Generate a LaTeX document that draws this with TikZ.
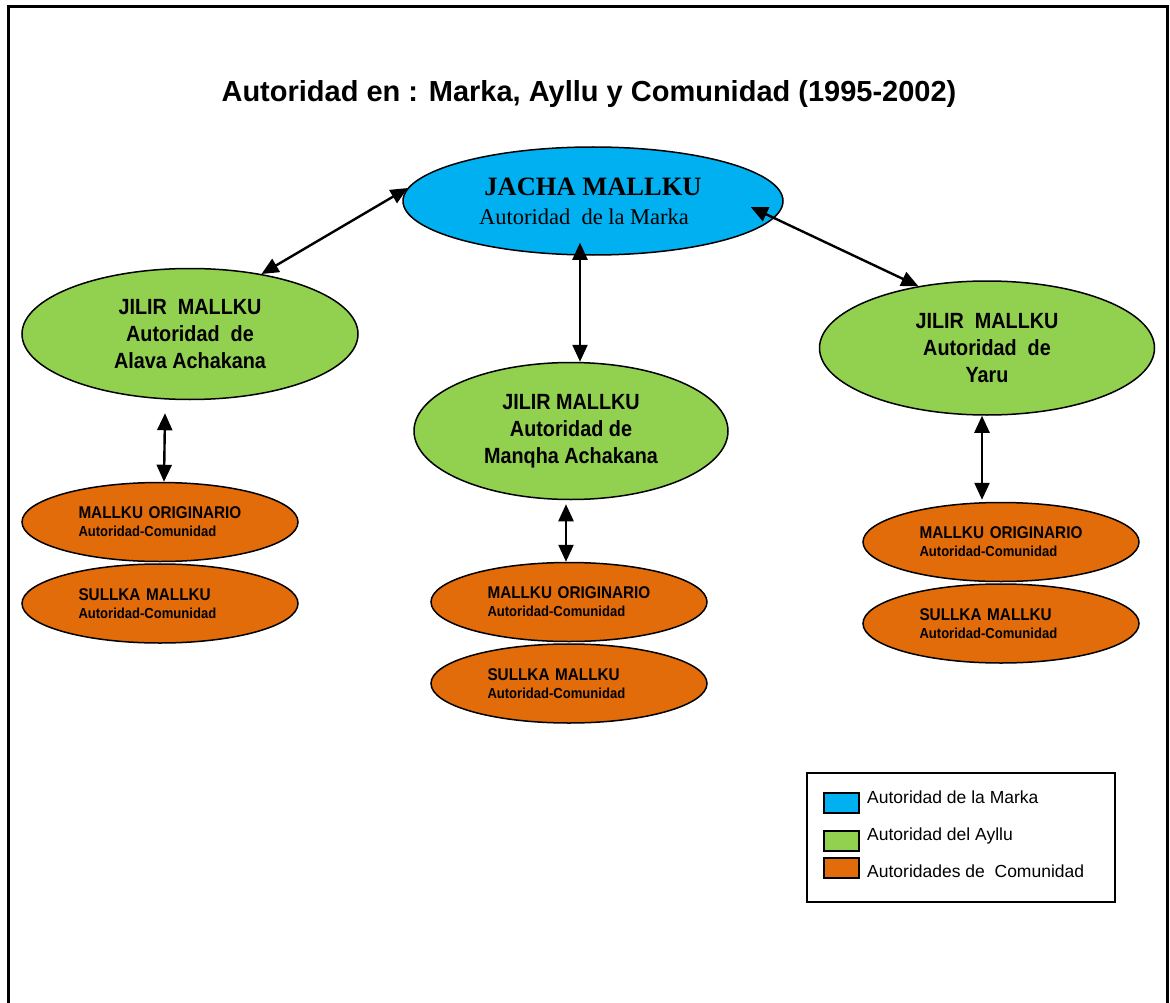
\documentclass[tikz,border=0pt]{standalone}
\usepackage{fontspec}
\setmainfont{Liberation Sans}
\newfontfamily\timesfont{Liberation Serif}
\newfontfamily\narrowfont[FakeStretch=0.9]{Liberation Sans}
\usepackage{xcolor}
\usepackage{tikz}
\usetikzlibrary{shapes,arrows.meta,positioning,calc}

\definecolor{markablue}{RGB}{0,176,240}
\definecolor{ayllugreen}{RGB}{146,208,80}
\definecolor{comorange}{RGB}{226,107,10}

\tikzset{
  marka/.style={ellipse, draw, line width=1.5pt, fill=markablue, inner sep=0pt,
    minimum width=380pt, minimum height=108pt, align=center,
    font=\timesfont\fontsize{22.5}{29}\selectfont},
  ayllu/.style={ellipse, draw, line width=1.5pt, fill=ayllugreen, inner sep=0pt,
    align=center, font=\narrowfont\bfseries\fontsize{22}{27}\selectfont},
  comunidad/.style={ellipse, draw, line width=1.5pt, fill=comorange, inner sep=0pt,
    minimum width=276pt, minimum height=79pt, text width=163pt, align=left,
    font=\narrowfont\bfseries\fontsize{17}{18}\selectfont},
  link/.style={{Triangle[length=17pt,width=15pt]}-{Triangle[length=17pt,width=15pt]}, line width=2.4pt},
  swatch/.style={draw, line width=1.5pt, minimum width=35pt, minimum height=20pt, inner sep=0pt},
  keytext/.style={anchor=base west, inner sep=0pt, font=\fontsize{17.5}{20}\selectfont}
}
\newcommand\comlabel{{\fontsize{14.5}{18}\selectfont Autoridad-Comunidad}}

\begin{document}
\begin{tikzpicture}[x=1pt, y=-1pt]
  \useasboundingbox (0,0) rectangle (1170,1003);
  % frame
  \draw[line width=3pt] (8,1003) -- (8,7) -- (1167,7) -- (1167,1003);
  \node[anchor=base, font=\bfseries\fontsize{29}{34}\selectfont] (title) at (589,102)
    {Autoridad en : Marka, Ayllu y Comunidad (1995-2002)};

  % marka
  \node[marka] (jacha) at (593,201)
    {{\bfseries\fontsize{26.5}{29}\selectfont JACHA MALLKU}\\Autoridad\ \ de la Marka\hspace*{18pt}};

  % ayllus
  \node[ayllu, minimum width=336pt, minimum height=131pt] (alava) at (190,334)
    {JILIR\ \ MALLKU\\Autoridad\ \ de\\Alava Achakana};
  \node[ayllu, minimum width=314pt, minimum height=137pt] (manqha) at (571,431)
    {JILIR MALLKU\\Autoridad de\\Manqha Achakana};
  \node[ayllu, minimum width=335pt, minimum height=134pt] (yaru) at (987,348)
    {JILIR\ \ MALLKU\\Autoridad\ \ de\\Yaru};

  % comunidades
  \node[comunidad] (mol) at (160,522) {MALLKU ORIGINARIO\\\comlabel};
  \node[comunidad, below=1pt of mol] (sul) {SULLKA MALLKU\\\comlabel};
  \node[comunidad] (mom) at (569,602) {MALLKU ORIGINARIO\\\comlabel};
  \node[comunidad, below=1pt of mom] (sum) {SULLKA MALLKU\\\comlabel};
  \node[comunidad] (mor) at (1001,542) {MALLKU ORIGINARIO\\\comlabel};
  \node[comunidad, below=1pt of mor] (sur) {SULLKA MALLKU\\\comlabel};

  % links
  \draw[link] (jacha.176) -- (alava.40);
  \draw[link] ([xshift=-13pt,yshift=13pt]jacha.south) -- ([xshift=9pt]manqha.north);
  \draw[link] ([xshift=-33pt,yshift=-6pt]jacha.east) -- (yaru.138);
  \draw[link] ([xshift=-25pt,yshift=-13pt]alava.south) -- ([xshift=4pt]mol.north);
  \draw[link] ([xshift=-5pt,yshift=-4pt]manqha.south) -- ([xshift=-3pt]mom.north);
  \draw[link] ([xshift=-5pt]yaru.south) -- ([xshift=-19pt,yshift=2pt]mor.north);

  % legend
  \node[draw, line width=1.5pt, minimum width=308pt, minimum height=129pt] (legend) at (961,837.5) {};
  \node[swatch, fill=markablue] (keymarka) at (841.5,803) {};
  \node[swatch, fill=ayllugreen] (keyayllu) at (841.5,841) {};
  \node[swatch, fill=comorange] (keycom) at (841.5,868) {};
  \node[keytext] (keymarkatxt) at (867,803) {Autoridad de la Marka};
  \node[keytext] (keyayllutxt) at (867,840) {Autoridad del Ayllu};
  \node[keytext] (keycomtxt) at (867,877) {Autoridades de\ \ Comunidad};
\end{tikzpicture}
\end{document}
